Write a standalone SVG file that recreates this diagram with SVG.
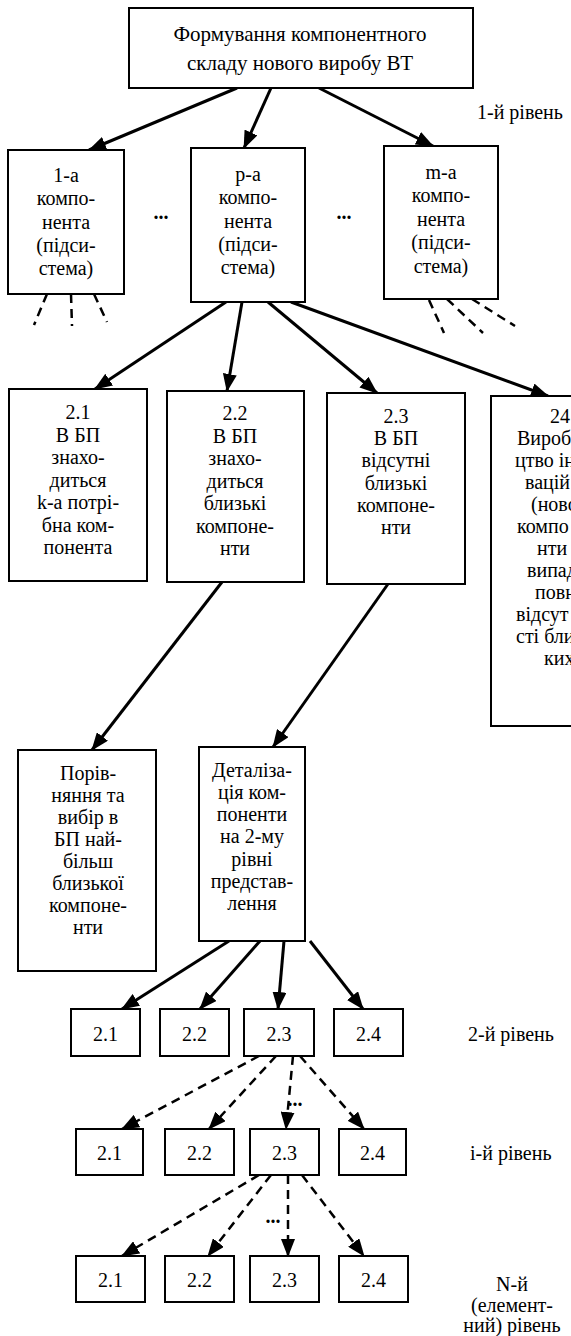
<svg xmlns="http://www.w3.org/2000/svg" width="571" height="1336" viewBox="0 0 571 1336">
<style>
.box{fill:#fff;stroke:#000;stroke-width:2}
text{font-family:"Liberation Serif","Times New Roman",serif;font-size:20px;fill:#000}
.big{font-size:21px}
.c{text-anchor:middle}
.s{text-anchor:start}
.dots{font-weight:bold;text-anchor:middle}
.ln{stroke:#000;stroke-width:3;fill:none;marker-end:url(#ah)}
.dl{stroke:#000;stroke-width:2.5;fill:none;stroke-dasharray:9 6}
.da{stroke:#000;stroke-width:2.5;fill:none;stroke-dasharray:9 6;marker-end:url(#ah)}
</style>
<defs>
<marker id="ah" viewBox="0 0 18 14" refX="17" refY="7" markerWidth="18" markerHeight="14" markerUnits="userSpaceOnUse" orient="auto">
<path d="M0,0 L18,7 L0,14 z" fill="#000"/>
</marker>
</defs>
<rect x="0" y="0" width="571" height="1336" fill="#fff"/>

<g id="connectors">
<line class="ln" x1="237" y1="88" x2="89" y2="150"/>
<line class="ln" x1="271" y1="88" x2="244" y2="148"/>
<line class="ln" x1="319" y1="88" x2="433" y2="146"/>
<line class="dl" x1="47" y1="294" x2="34" y2="325"/>
<line class="dl" x1="71" y1="294" x2="72" y2="326"/>
<line class="dl" x1="94" y1="294" x2="107" y2="322"/>
<line class="dl" x1="429" y1="300" x2="444" y2="333"/>
<line class="dl" x1="447" y1="299" x2="483" y2="333"/>
<line class="dl" x1="472" y1="299" x2="515" y2="326"/>
<line class="ln" x1="226" y1="302" x2="95" y2="389"/>
<line class="ln" x1="242" y1="302" x2="227" y2="391"/>
<line class="ln" x1="268" y1="302" x2="377" y2="393"/>
<line class="ln" x1="291" y1="302" x2="548" y2="396"/>
<line class="ln" x1="222" y1="582" x2="92" y2="750"/>
<line class="ln" x1="388" y1="584" x2="273" y2="747"/>
<line class="ln" x1="229" y1="941" x2="122" y2="1009"/>
<line class="ln" x1="260" y1="941" x2="200" y2="1009"/>
<line class="ln" x1="284" y1="941" x2="278" y2="1009"/>
<line class="ln" x1="310" y1="941" x2="363" y2="1009"/>
<line class="da" x1="259" y1="1056" x2="122" y2="1129"/>
<line class="da" x1="276" y1="1056" x2="209" y2="1129"/>
<line class="da" x1="293" y1="1056" x2="286" y2="1129"/>
<line class="da" x1="300" y1="1056" x2="364" y2="1129"/>
<line class="da" x1="259" y1="1175" x2="122" y2="1256"/>
<line class="da" x1="271" y1="1175" x2="208" y2="1256"/>
<line class="da" x1="288" y1="1175" x2="288" y2="1256"/>
<line class="da" x1="302" y1="1175" x2="364" y2="1256"/>
</g>

<g id="top">
<rect class="box" x="129" y="8" width="344" height="80"/>
<text class="c big" x="300" y="41">Формування компонентного</text>
<text class="c big" x="300" y="70">складу нового виробу ВТ</text>
</g>
<text id="lvl1" class="s" x="477" y="119">1-й рівень</text>

<g id="n1a">
<rect class="box" x="8" y="150" width="116" height="144"/>
<text class="c" x="66" y="182">1-а</text>
<text class="c" x="66" y="205">компо-</text>
<text class="c" x="66" y="229">нента</text>
<text class="c" x="66" y="252">(підси-</text>
<text class="c" x="66" y="275">стема)</text>
</g>
<text class="dots" x="161" y="219">...</text>
<g id="npa">
<rect class="box" x="191" y="148" width="114" height="154"/>
<text class="c" x="248" y="181">р-а</text>
<text class="c" x="248" y="204">компо-</text>
<text class="c" x="248" y="228">нента</text>
<text class="c" x="248" y="251">(підси-</text>
<text class="c" x="248" y="274">стема)</text>
</g>
<text class="dots" x="344" y="219">...</text>
<g id="nma">
<rect class="box" x="384" y="146" width="114" height="153"/>
<text class="c" x="441" y="179">m-а</text>
<text class="c" x="441" y="202">компо-</text>
<text class="c" x="441" y="226">нента</text>
<text class="c" x="441" y="249">(підси-</text>
<text class="c" x="441" y="273">стема)</text>
</g>

<g id="n21">
<rect class="box" x="9" y="389" width="138" height="192"/>
<text class="c" x="78" y="419">2.1</text>
<text class="c" x="78" y="442">В БП</text>
<text class="c" x="78" y="464">знахо-</text>
<text class="c" x="78" y="487">диться</text>
<text class="c" x="78" y="509">k-а потрі-</text>
<text class="c" x="78" y="532">бна ком-</text>
<text class="c" x="78" y="554">понента</text>
</g>
<g id="n22">
<rect class="box" x="167" y="391" width="137" height="191"/>
<text class="c" x="235" y="420">2.2</text>
<text class="c" x="235" y="443">В БП</text>
<text class="c" x="235" y="465">знахо-</text>
<text class="c" x="235" y="488">диться</text>
<text class="c" x="235" y="510">близькі</text>
<text class="c" x="235" y="533">компоне-</text>
<text class="c" x="235" y="555">нти</text>
</g>
<g id="n23">
<rect class="box" x="327" y="393" width="138" height="191"/>
<text class="c" x="396" y="423">2.3</text>
<text class="c" x="396" y="445">В БП</text>
<text class="c" x="396" y="467">відсутні</text>
<text class="c" x="396" y="490">близькі</text>
<text class="c" x="396" y="512">компоне-</text>
<text class="c" x="396" y="534">нти</text>
</g>
<g id="n24">
<rect class="box" x="491" y="396" width="140" height="330"/>
<text class="c" x="560" y="423">24</text>
<text class="s" x="517" y="445">Вироб</text>
<text class="s" x="515" y="467">цтво ін</text>
<text class="s" x="525" y="489">вацій</text>
<text class="s" x="531" y="511">(ново</text>
<text class="s" x="517" y="533">компо</text>
<text class="s" x="537" y="555">нти</text>
<text class="s" x="527" y="577">випад</text>
<text class="s" x="535" y="599">повн</text>
<text class="s" x="516" y="621">відсут</text>
<text class="s" x="516" y="643">сті бли</text>
<text class="s" x="544" y="665">ких</text>
</g>

<g id="nporiv">
<rect class="box" x="18" y="750" width="138" height="221"/>
<text class="c" x="88" y="780">Порів-</text>
<text class="c" x="88" y="802">няння та</text>
<text class="c" x="88" y="824">вибір в</text>
<text class="c" x="88" y="846">БП най-</text>
<text class="c" x="88" y="868">більш</text>
<text class="c" x="88" y="890">близької</text>
<text class="c" x="88" y="912">компоне-</text>
<text class="c" x="88" y="934">нти</text>
</g>
<g id="ndet">
<rect class="box" x="199" y="747" width="106" height="194"/>
<text class="c" x="252" y="777">Деталіза-</text>
<text class="c" x="252" y="799">ція ком-</text>
<text class="c" x="252" y="821">поненти</text>
<text class="c" x="252" y="843">на 2-му</text>
<text class="c" x="252" y="866">рівні</text>
<text class="c" x="252" y="888">представ-</text>
<text class="c" x="252" y="910">лення</text>
</g>

<g id="l2-21"><rect class="box" x="71" y="1009" width="69" height="47"/><text class="c" x="105.5" y="1041">2.1</text></g>
<g id="l2-22"><rect class="box" x="160" y="1009" width="69" height="47"/><text class="c" x="194.5" y="1041">2.2</text></g>
<g id="l2-23"><rect class="box" x="244" y="1009" width="70" height="47"/><text class="c" x="279" y="1041">2.3</text></g>
<g id="l2-24"><rect class="box" x="334" y="1009" width="69" height="47"/><text class="c" x="368.5" y="1041">2.4</text></g>
<text id="lvl2" class="s" x="468" y="1041">2-й рівень</text>

<text class="dots" x="295" y="1106">...</text>

<g id="li-21"><rect class="box" x="76" y="1129" width="67" height="46"/><text class="c" x="109.5" y="1160">2.1</text></g>
<g id="li-22"><rect class="box" x="165" y="1129" width="69" height="46"/><text class="c" x="199.5" y="1160">2.2</text></g>
<g id="li-23"><rect class="box" x="250" y="1129" width="69" height="46"/><text class="c" x="284.5" y="1160">2.3</text></g>
<g id="li-24"><rect class="box" x="339" y="1129" width="67" height="46"/><text class="c" x="372.5" y="1160">2.4</text></g>
<text id="lvli" class="s" x="470" y="1160">і-й рівень</text>

<text class="dots" x="273" y="1223">...</text>

<g id="ln-21"><rect class="box" x="76" y="1256" width="69" height="46"/><text class="c" x="110.5" y="1287">2.1</text></g>
<g id="ln-22"><rect class="box" x="165" y="1256" width="69" height="46"/><text class="c" x="199.5" y="1287">2.2</text></g>
<g id="ln-23"><rect class="box" x="250" y="1256" width="69" height="46"/><text class="c" x="284.5" y="1287">2.3</text></g>
<g id="ln-24"><rect class="box" x="339" y="1256" width="69" height="46"/><text class="c" x="373.5" y="1287">2.4</text></g>
<g id="lvlN">
<text class="c" x="512" y="1291">N-й</text>
<text class="c" x="512" y="1312">(елемент-</text>
<text class="c" x="512" y="1332">ний) рівень</text>
</g>
</svg>
